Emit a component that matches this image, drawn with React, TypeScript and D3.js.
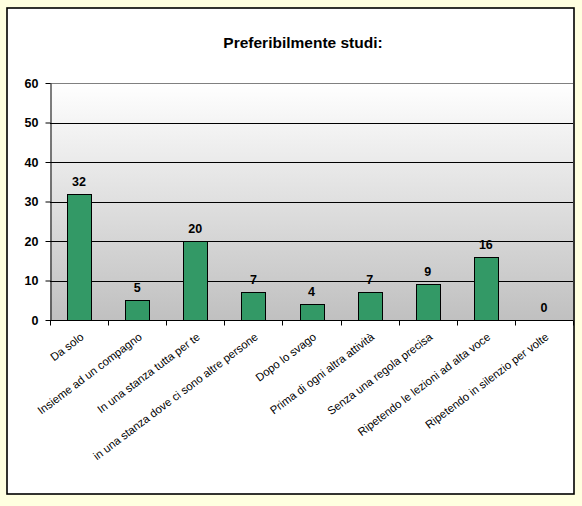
import * as d3 from "d3";
import { useEffect, useRef } from "react";

const categories = [
  "Da solo",
  "Insieme ad un compagno",
  "In una stanza tutta per te",
  "in una stanza dove ci sono altre persone",
  "Dopo lo svago",
  "Prima di ogni altra attività",
  "Senza una regola precisa",
  "Ripetendo le lezioni ad alta voce",
  "Ripetendo in silenzio per volte",
];
const values = [32, 5, 20, 7, 4, 7, 9, 16, 0];
const yTicks = [0, 10, 20, 30, 40, 50, 60];
const title = "Preferibilmente studi:";

const W = 582;
const H = 506;

const App = () => {
  const svgRef = useRef<SVGSVGElement | null>(null);

  useEffect(() => {
    const svg = d3.select(svgRef.current);
    svg.selectAll("*").remove();

    const margin = { top: 83, right: 9, bottom: 186, left: 50 };
    const x0 = margin.left;
    const x1 = W - margin.right;
    const y0 = H - margin.bottom;
    const y1 = margin.top;
    const font = "Arial, 'Liberation Sans', sans-serif";

    // background
    svg.append("rect").attr("width", W).attr("height", H).attr("fill", "#ffffe0");
    svg
      .append("rect")
      .attr("x", 7)
      .attr("y", 8)
      .attr("width", 567)
      .attr("height", 486)
      .attr("fill", "#ffffff")
      .attr("stroke", "#000")
      .attr("stroke-width", 1.6);

    const grad = svg
      .append("defs")
      .append("linearGradient")
      .attr("id", "plotGrad")
      .attr("x1", 0)
      .attr("y1", 0)
      .attr("x2", 0)
      .attr("y2", 1);
    grad.append("stop").attr("offset", "0%").attr("stop-color", "#ffffff");
    grad.append("stop").attr("offset", "100%").attr("stop-color", "#c0c0c0");

    const x = d3.scaleBand().domain(categories).range([x0, x1]).paddingInner(0).paddingOuter(0);
    const y = d3.scaleLinear().domain([0, 60]).range([y0, y1]);

    svg
      .append("rect")
      .attr("x", x0)
      .attr("y", y1)
      .attr("width", x1 - x0)
      .attr("height", y0 - y1)
      .attr("fill", "url(#plotGrad)");

    // gridlines
    svg
      .append("g")
      .selectAll("line")
      .data(yTicks.filter((t) => t > 0))
      .join("line")
      .attr("x1", x0)
      .attr("x2", x1)
      .attr("y1", (d) => Math.round(y(d)) + 0.5)
      .attr("y2", (d) => Math.round(y(d)) + 0.5)
      .attr("stroke", (d) => (d === 60 ? "#808080" : "#000"))
      .attr("stroke-width", 1);

    // bars
    const bw = 24;
    svg
      .append("g")
      .selectAll("rect")
      .data(values)
      .join("rect")
      .attr("x", (_, i) => Math.round(x(categories[i])! + x.bandwidth() / 2 - bw / 2) + 0.5)
      .attr("y", (d) => Math.round(y(d)) + 0.5)
      .attr("width", bw)
      .attr("height", (d) => Math.max(0, Math.round(y0) - Math.round(y(d))))
      .attr("fill", "#339966")
      .attr("stroke", "#000")
      .attr("stroke-width", 1)
      .attr("display", (d) => (d > 0 ? null : "none"));

    // data labels
    svg
      .append("g")
      .selectAll("text")
      .data(values)
      .join("text")
      .attr("x", (_, i) => x(categories[i])! + x.bandwidth() / 2)
      .attr("y", (d) => y(d) - 8)
      .attr("text-anchor", "middle")
      .attr("font-family", font)
      .attr("font-weight", "bold")
      .attr("font-size", 12.5)
      .attr("fill", "#000")
      .text((d) => d);

    // y axis
    const yAxis = svg
      .append("g")
      .attr("transform", `translate(${x0 + 0.5},0)`)
      .call(d3.axisLeft(y).tickValues(yTicks).tickSize(5).tickPadding(7).tickSizeOuter(0));
    yAxis.select(".domain").attr("stroke", "#000");
    yAxis
      .selectAll("text")
      .attr("font-family", font)
      .attr("font-weight", "bold")
      .attr("font-size", 12.5)
      .attr("fill", "#000");

    // x axis
    const xAxisG = svg.append("g").attr("transform", `translate(0,${Math.round(y0) + 0.5})`);
    xAxisG
      .append("line")
      .attr("x1", x0)
      .attr("x2", x1)
      .attr("stroke", "#000");
    xAxisG
      .selectAll("line.tick")
      .data(d3.range(categories.length + 1))
      .join("line")
      .attr("class", "tick")
      .attr("x1", (i) => Math.round(x0 + i * x.bandwidth()) + 0.5)
      .attr("x2", (i) => Math.round(x0 + i * x.bandwidth()) + 0.5)
      .attr("y1", 0)
      .attr("y2", 5)
      .attr("stroke", "#000");

    xAxisG
      .selectAll("text")
      .data(categories)
      .join("text")
      .attr(
        "transform",
        (d) => `translate(${x(d)! + x.bandwidth() / 2 + 5.5},${18}) rotate(-37)`
      )
      .attr("text-anchor", "end")
      .attr("font-family", font)
      .attr("font-size", 11.3)
      .attr("fill", "#000")
      .text((d) => d);

    // title
    svg
      .append("text")
      .attr("x", 303)
      .attr("y", 48)
      .attr("text-anchor", "middle")
      .attr("font-family", font)
      .attr("font-weight", "bold")
      .attr("font-size", 15.5)
      .attr("fill", "#000")
      .text(title);
  }, []);

  return (
    <div style={{ position: "fixed", left: 0, top: 0, width: W, height: H }}>
      <svg ref={svgRef} width={W} height={H}></svg>
    </div>
  );
};

export default App;
